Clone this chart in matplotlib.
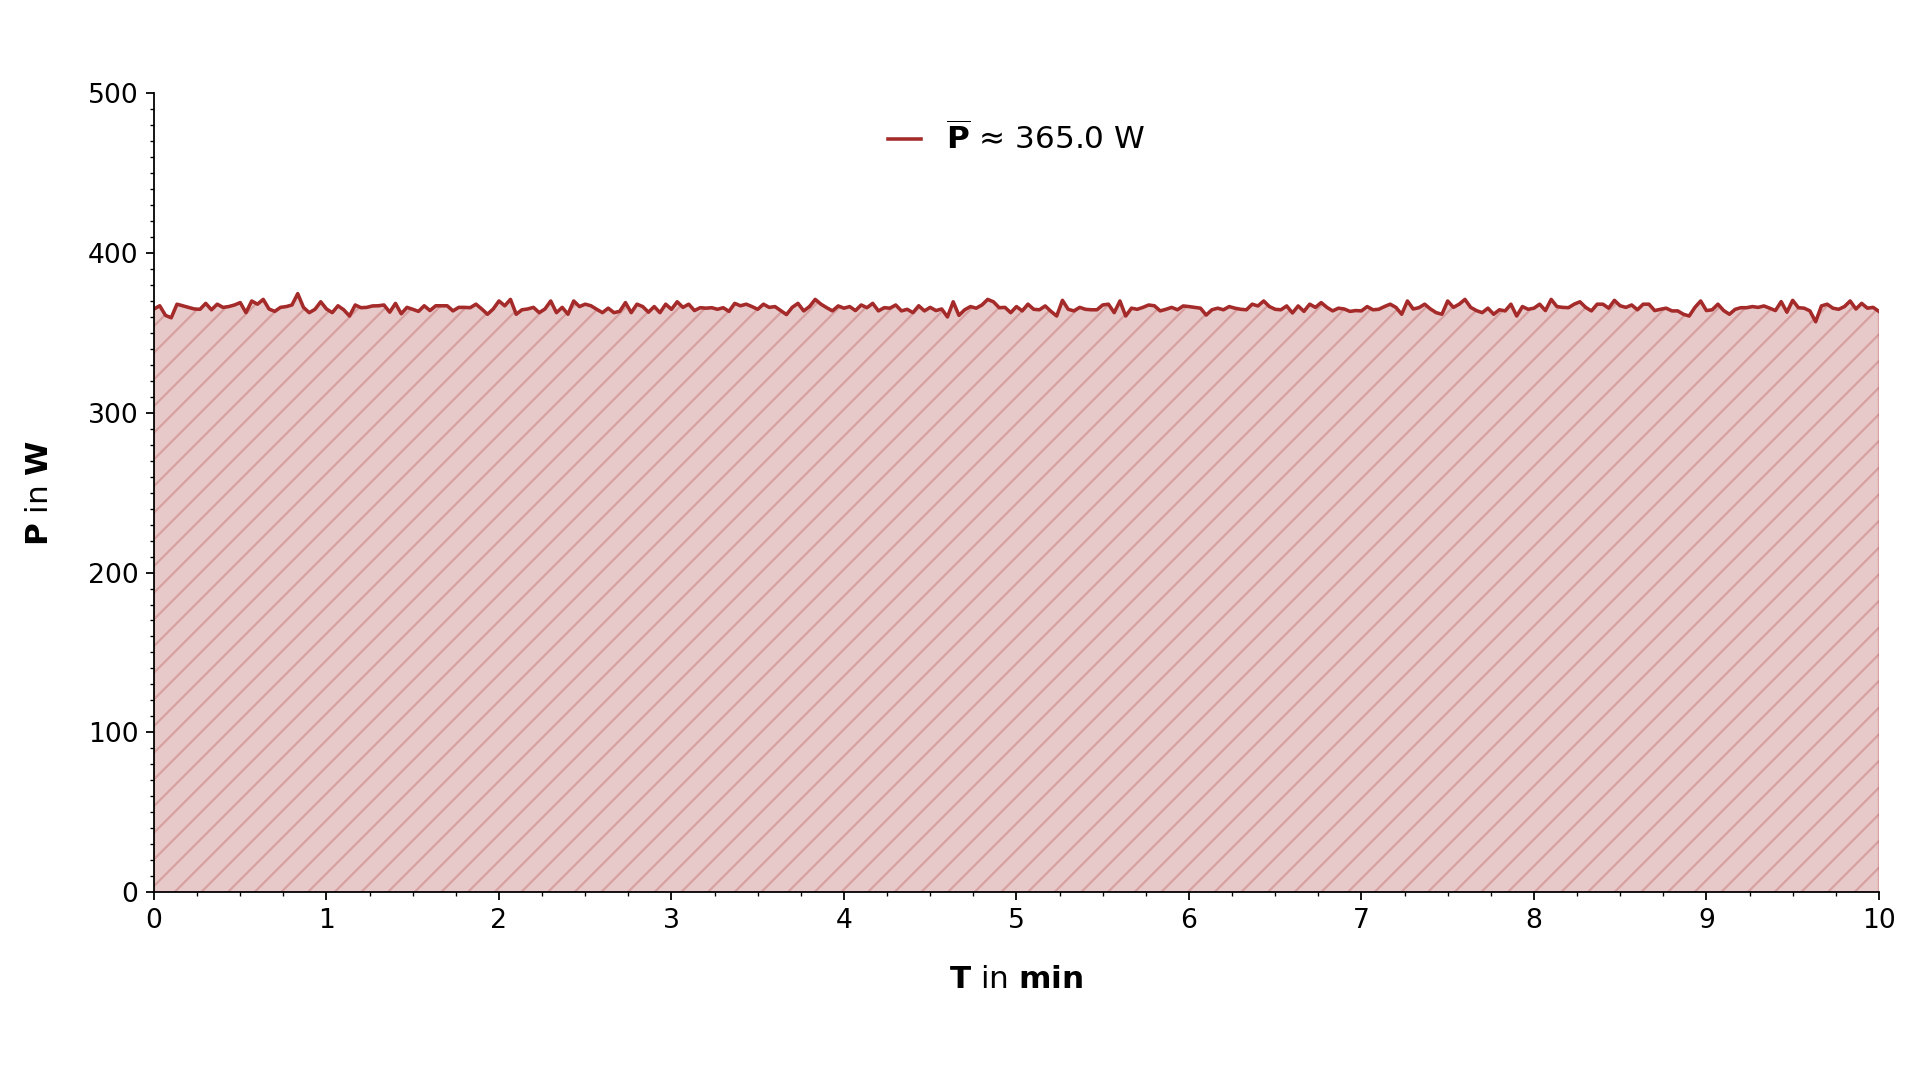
import numpy as np
import matplotlib
matplotlib.use("Agg")
import matplotlib.pyplot as plt
from matplotlib.ticker import MultipleLocator

# power readings in W, one every 2 s over 10 min
power = [
    365, 367, 361, 359.5, 368, 367, 366, 365, 364.8, 368.5,
    364.5, 368, 366, 366.5, 367.5, 369, 362.7, 370, 368, 371,
    365, 363.5, 366, 366.5, 367.5, 374.6, 366, 362.7, 364.8, 369.5,
    365, 362.7, 367, 364.5, 360.6, 367.5, 365.8, 366, 366.9, 367,
    367.5, 363, 368.5, 362, 366, 364.8, 363.5, 367, 364, 367,
    367, 367,
    363.8, 366, 366, 365.8, 368, 365, 361.7, 365, 370, 367,
    371, 361.7, 364.5, 365, 366, 362.7, 365, 370, 362.7, 366,
    361.7, 370, 366.5, 368, 367, 364.8, 362.7, 365.5, 362.7, 363.5,
    369, 362.7, 368, 366.5, 363, 366.5, 362.7, 368, 364.8, 369.5,
    366, 368, 364, 365.8, 365.5, 365.8, 364.8, 365.8, 363.5, 368.5,
    367, 368, 366.5, 364.8, 368, 366, 366.5, 364, 361.5, 366,
    368.5, 363.8, 366.5, 371, 368, 365.8, 363.8, 366.9, 365.5, 366.5,
    364, 367.5, 365.8, 368.5, 363.8, 365.8, 365.5, 367.5, 363.8, 364.8,
    362.7, 367, 363.8, 366, 364, 365, 360, 369.5, 361, 364.5,
    366.5, 365.5, 367.5, 371, 369.5, 365.8, 366, 362.7, 366.5, 363.8,
    368, 364.8, 364.5, 366.9, 363.5, 360.6, 370.4, 364.8, 363.8, 366,
    364.8, 364.5, 364.5, 367.5, 368, 362.7, 370, 360.6, 365.5, 364.8,
    366, 367.5, 367, 363.8, 364.8, 366, 364.5, 366.9, 366.5, 366,
    365.5, 361.2, 364.5, 365.5, 364.5, 366.5, 365.5, 364.8, 364.5, 368,
    366.9, 370, 366.5, 364.8, 364.5, 366.9, 362.5, 366.9, 363.5, 368,
    366, 369, 366, 363.8, 365.5, 365, 363.5, 364, 363.8, 366.5,
    364.5, 364.8, 366.5, 368, 366, 361.7, 370, 365, 365.8, 368,
    365, 362.7, 361.7, 370, 366, 368, 371, 366, 364, 362.7,
    365.5, 361.7, 364.5, 363.8, 368, 360.6, 366.5, 364.8, 365.5, 368,
    364, 371, 366.5, 366, 365.8, 368, 369.5, 366, 363.8, 368,
    368, 365.5, 370.4, 367, 366, 367.5, 364.5, 368, 368, 364,
    364.8, 365.5, 363.8, 363.8, 361.7, 360.6, 366, 370, 364, 364.5,
    368, 364, 361.7, 364.8, 365.8, 365.8, 366.5, 366, 366.9, 365.5,
    364, 369.6, 363, 370.4, 365.8, 365.5, 363.8, 357, 366.9, 368,
    365.5, 364.8, 366.5, 370, 365, 368.5, 365.5, 366, 363.5,
]
t_start, t_end = 0, 10      # minutes
p_mean = 365.0              # value shown in the legend

time = np.linspace(t_start, t_end, len(power))

fig = plt.figure(figsize=(12, 6.75), dpi=160)
ax = fig.add_axes([0.0802, 0.174, 0.8984, 0.7396])

ax.fill_between(time, power, 0, facecolor="brown", edgecolor="brown",
                alpha=0.25, hatch="//", linewidth=1.0)
ax.plot(time, power, color="brown", linewidth=1.6,
        label=r"$\overline{\mathbf{P}}$ ≈ " + "{:.1f} W".format(p_mean))

ax.set_xlim(t_start, t_end)
ax.set_ylim(0, 500)
ax.xaxis.set_major_locator(MultipleLocator(1))
ax.xaxis.set_minor_locator(MultipleLocator(0.25))
ax.yaxis.set_major_locator(MultipleLocator(100))
ax.yaxis.set_minor_locator(MultipleLocator(10))
ax.tick_params(labelsize=12)

ax.spines["top"].set_visible(False)
ax.spines["right"].set_visible(False)

ax.set_xlabel(r"$\mathbf{T}$ in $\mathbf{min}$", fontsize=14, labelpad=14)
ax.set_ylabel(r"$\mathbf{P}$ in $\mathbf{W}$", fontsize=14, labelpad=15)

ax.legend(loc="upper center", frameon=False, fontsize=14,
          handlelength=1.05, handletextpad=0.8)

fig.savefig("out.png", dpi=160)
